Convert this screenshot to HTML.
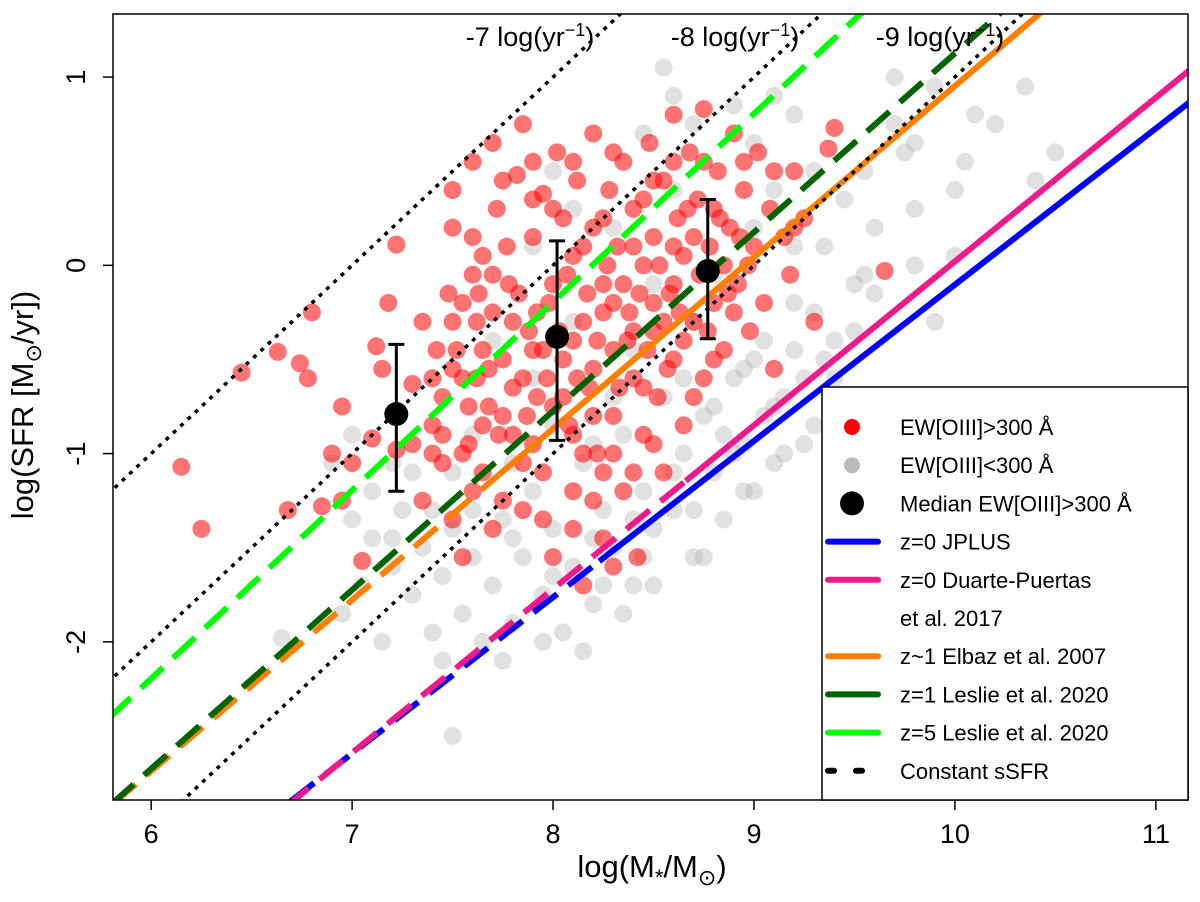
<!DOCTYPE html>
<html><head><meta charset="utf-8"><style>
html,body{margin:0;padding:0;background:#fff;overflow:hidden;width:1200px;height:902px;}
svg{display:block;}
svg text{font-family:"Liberation Sans",sans-serif;}
</style></head><body>
<svg id="chart" width="1200" height="902" viewBox="0 0 1200 902" xmlns="http://www.w3.org/2000/svg">
<defs><clipPath id="plotclip"><rect x="113" y="14" width="1075" height="786"/></clipPath></defs>
<rect x="113" y="14" width="1075" height="786" fill="#fff"/>
<g id="grey-pts" clip-path="url(#plotclip)"></g>
<g id="red-pts" clip-path="url(#plotclip)"></g>
<g id="lines" clip-path="url(#plotclip)"></g>
<g id="medians"></g>
<g id="axes"></g>
<text x="530" y="46" font-size="27" text-anchor="middle">-7 log(yr<tspan dy="-10" font-size="18">−1</tspan><tspan dy="10">)</tspan></text>
<text x="735" y="46" font-size="27" text-anchor="middle">-8 log(yr<tspan dy="-10" font-size="18">−1</tspan><tspan dy="10">)</tspan></text>
<text x="940" y="46" font-size="27" text-anchor="middle">-9 log(yr<tspan dy="-10" font-size="18">−1</tspan><tspan dy="10">)</tspan></text>
<g id="legend"></g>
<text x="652" y="877" font-size="31" text-anchor="middle">log(M<tspan dy="8" font-size="22">*</tspan><tspan dy="-8">/M</tspan><tspan dy="8" font-size="22">⊙</tspan><tspan dy="-8">)</tspan></text>
<text transform="translate(33,405) rotate(-90)" font-size="31" text-anchor="middle">log(SFR [M<tspan dy="8" font-size="22">⊙</tspan><tspan dy="-8">/yr])</tspan></text>
</svg>
<script>
const xTicks=[6,7,8,9,10,11];
const yTicks=[-2,-1,0,1];
const greyPts=[[6.65,-1.98],[6.95,-1.85],[7.0,-1.35],[7.05,-1.7],[7.1,-1.45],[7.15,-2.0],[7.2,-1.6],[7.25,-1.3],[7.3,-1.75],[7.35,-1.5],[7.4,-1.95],[7.45,-1.65],[7.5,-1.4],[7.5,-2.5],[7.55,-1.85],[7.6,-1.55],[7.65,-2.0],[7.7,-1.7],[7.75,-1.35],[7.8,-1.9],[7.85,-1.55],[7.9,-1.2],[7.95,-1.75],[8.0,-1.4],[8.05,-1.95],[8.1,-1.6],[8.15,-1.05],[8.2,-1.8],[8.25,-1.3],[8.3,-1.5],[8.35,-0.9],[8.4,-1.7],[8.45,-1.2],[8.5,-1.4],[8.55,-0.7],[8.6,-1.3],[8.65,-1.0],[8.7,-1.55],[8.75,-0.8],[8.8,-1.1],[8.85,-1.35],[8.9,-0.6],[8.95,-0.95],[9.0,-1.2],[9.05,-0.4],[9.1,-0.75],[9.15,-1.0],[9.2,-0.2],[9.25,-0.6],[9.3,-0.85],[9.35,0.1],[9.4,-0.4],[9.45,0.35],[9.5,-0.1],[9.55,0.5],[9.6,0.2],[9.7,1.0],[9.75,0.6],[9.8,0.3],[9.9,0.95],[10.0,0.4],[10.0,0.05],[10.1,0.8],[10.2,0.75],[10.4,0.45],[10.5,0.6],[10.35,0.95],[8.55,1.05],[8.6,0.9],[8.7,0.75],[8.9,0.85],[9.0,0.65],[9.1,0.9],[9.2,0.8],[9.3,0.5],[8.4,-0.45],[8.3,-0.7],[8.2,-0.95],[8.0,-0.85],[7.9,-0.6],[7.8,-1.05],[8.1,-0.3],[8.5,-0.1],[8.7,-0.3],[8.8,-0.05],[9.0,0.2],[9.1,0.4],[9.2,0.1],[9.3,-0.25],[9.4,-0.6],[9.5,-0.35],[9.6,-0.15],[8.6,0.4],[8.3,0.2],[8.0,0.5],[7.9,0.1],[8.1,0.3],[8.45,0.7],[9.7,0.75],[9.8,0.65],[10.05,0.55],[8.95,-0.55],[9.05,-0.8],[8.85,-0.9],[8.65,-0.6],[7.6,-0.9],[7.7,-0.4],[7.5,-1.1],[7.3,-1.1],[7.1,-1.2],[6.9,-1.05],[7.0,-0.9],[7.2,-1.05],[8.75,-1.55],[8.95,-1.2],[9.1,-1.05],[9.25,-0.95],[8.5,-1.7],[8.35,-1.85],[8.15,-2.05],[7.95,-2.0],[7.75,-2.1],[7.45,-2.1],[9.8,0.0],[9.9,-0.3],[7.6,-1.3],[7.8,-1.45],[8.0,-1.65],[8.2,-1.45],[8.4,-1.35],[8.6,-1.1],[8.8,-0.75],[9.0,-0.5],[9.2,-0.45],[7.4,-1.3],[7.2,-1.45],[8.25,-1.7],[8.45,-1.55],[8.7,-1.3],[8.9,-1.0],[9.15,-0.7],[9.35,-0.5],[9.55,-0.05]];
const redPts=[[6.15,-1.07],[6.25,-1.4],[6.45,-0.57],[6.63,-0.46],[6.68,-1.3],[6.8,-0.25],[6.78,-0.6],[6.74,-0.52],[6.9,-1.0],[6.85,-1.28],[6.95,-0.75],[7.05,-1.57],[7.0,-1.05],[7.1,-0.92],[7.12,-0.43],[7.22,0.11],[7.18,-0.2],[7.22,-0.98],[7.3,-0.63],[7.35,-1.25],[7.4,-0.85],[7.42,-0.45],[7.45,-1.05],[7.5,0.2],[7.5,0.4],[7.48,-0.15],[7.55,-0.6],[7.58,-0.95],[7.6,-1.2],[7.62,-0.3],[7.65,0.05],[7.68,-0.75],[7.7,-1.4],[7.72,0.3],[7.75,-0.5],[7.78,-0.1],[7.8,-0.9],[7.82,0.48],[7.85,-1.3],[7.85,0.75],[7.88,-0.35],[7.9,0.15],[7.92,-0.7],[7.95,-1.1],[7.95,0.38],[7.98,-0.2],[8.0,-1.55],[8.02,0.6],[8.05,-0.5],[8.05,0.25],[8.08,-0.85],[8.1,-1.2],[8.1,0.05],[8.12,0.45],[8.15,-0.3],[8.15,-1.7],[8.18,-0.65],[8.2,0.7],[8.2,0.2],[8.22,-1.0],[8.25,-0.1],[8.25,-1.45],[8.28,0.4],[8.3,-0.45],[8.3,-0.8],[8.32,0.1],[8.35,-1.2],[8.35,0.55],[8.38,-0.25],[8.4,-0.6],[8.4,0.3],[8.42,-1.55],[8.45,0.0],[8.45,-0.9],[8.48,0.65],[8.5,-0.35],[8.5,0.15],[8.52,-0.7],[8.55,-1.1],[8.55,0.45],[8.58,-0.15],[8.6,0.8],[8.6,-0.5],[8.62,0.25],[8.65,-0.85],[8.65,0.05],[8.68,0.6],[8.7,-0.3],[8.72,0.35],[8.75,-0.6],[8.75,0.83],[8.78,0.1],[8.8,-0.2],[8.82,0.5],[8.85,-0.45],[8.88,0.2],[8.9,0.7],[8.92,-0.1],[8.95,0.4],[8.98,-0.35],[9.0,0.1],[9.02,0.6],[9.05,-0.2],[9.08,0.3],[9.1,-0.55],[9.15,0.15],[9.18,-0.05],[9.2,0.5],[9.25,0.25],[9.3,-0.3],[9.37,0.62],[9.4,0.73],[9.65,-0.03],[7.55,-0.2],[7.6,0.15],[7.65,-0.45],[7.7,-0.05],[7.75,-0.8],[7.8,-0.3],[7.85,-0.6],[7.9,-0.95],[7.95,-0.45],[8.0,-0.1],[8.05,-0.7],[8.1,-0.4],[8.15,0.1],[8.2,-0.55],[8.25,-0.25],[8.3,-1.0],[8.35,-0.1],[8.4,-0.35],[8.45,-0.65],[8.5,-0.95],[8.55,-0.3],[8.6,-0.1],[8.65,-0.4],[8.7,-0.7],[8.8,-0.5],[8.85,0.0],[8.9,-0.25],[7.45,-0.7],[7.5,-1.35],[7.4,-1.0],[7.55,-1.55],[7.65,-1.1],[7.75,-1.25],[8.1,-1.4],[8.2,-1.25],[8.3,-1.6],[7.3,-0.95],[7.35,-0.3],[7.6,0.55],[7.7,0.65],[7.9,0.55],[8.0,0.3],[8.3,0.6],[8.5,0.45],[7.15,-0.55],[6.95,-1.25],[7.52,-0.45],[7.58,-0.75],[7.63,-0.15],[7.68,-0.55],[7.73,-0.9],[7.77,0.1],[7.83,-0.15],[7.87,-0.8],[7.92,-0.25],[7.97,-0.6],[8.03,-0.35],[8.07,-0.05],[8.12,-0.6],[8.17,-0.15],[8.22,-0.4],[8.27,0.0],[8.33,-0.65],[8.37,-0.4],[8.43,-0.15],[8.47,-0.45],[8.53,0.0],[8.57,-0.55],[8.63,-0.25],[8.67,0.3],[8.73,-0.05],[8.77,-0.35],[8.83,0.25],[8.87,-0.15],[8.93,0.15],[8.97,0.0],[7.45,-0.9],[7.5,-0.55],[7.4,-0.6],[7.55,-1.0],[7.62,-0.6],[7.7,-0.25],[7.8,-0.65],[7.9,-0.45],[8.0,-0.75],[8.1,-0.9],[8.2,-0.8],[8.3,-0.2],[8.4,0.1],[8.5,-0.2],[8.6,0.1],[8.7,0.15],[8.8,0.3],[8.4,-1.1],[8.25,-1.1],[8.15,-1.0],[7.95,-1.35],[7.85,-1.05],[7.65,-0.85],[7.5,-0.3],[7.6,-0.05],[7.75,0.45],[7.9,0.35],[8.1,0.55],[8.25,0.25],[8.45,0.35],[8.6,0.55],[8.75,0.55],[8.95,0.55],[9.1,0.5],[9.2,0.2]];
const medMass=[7.22,8.02,8.77];
const medSfr=[-0.79,-0.38,-0.03];
const medLo=[-1.2,-0.93,-0.39];
const medHi=[-0.42,0.13,0.35];
const relNames=["z0-jplus","z0-duarte-puertas","z1-elbaz","z1-leslie","z5-leslie","ssfr-7","ssfr-8","ssfr-9"];
const relColors=["#0000ff","#ee1a8c","#ff8000","#006400","#00ff00","#000","#000","#000"];
const relSlopes=[0.83,0.87,0.91,0.95,1.0,1.0,1.0,1.0];
const relRef=[[11.16,0.86],[11.16,1.03],[10.42,1.335],[10.22,1.335],[9.53,1.335],[8,1],[8,0],[8,-1]];
const relSolidFrom=[8.23,8.66,7.74,99,99,99,99,99];
const X0=5.81,X1=11.16,Y0=-2.84,Y1=1.335;
const sx=v=>113+(v-X0)/(X1-X0)*1075;
const sy=v=>800-(v-Y0)/(Y1-Y0)*786;
const NS="http://www.w3.org/2000/svg";
function mk(tag,attrs,parent){const e=document.createElementNS(NS,tag);for(const k in attrs)e.setAttribute(k,attrs[k]);parent.appendChild(e);return e;}
const gG=document.getElementById('grey-pts');
greyPts.forEach(p=>{const c=mk('circle',{cx:sx(p[0]),cy:sy(p[1]),r:9,fill:'#aaaaaa','fill-opacity':0.35},gG);

});
const gR=document.getElementById('red-pts');
redPts.forEach(p=>{const c=mk('circle',{cx:sx(p[0]),cy:sy(p[1]),r:9,fill:'#ff0000','fill-opacity':0.55},gR);

});
const gL=document.getElementById('lines');
relNames.forEach((n,i)=>{
  const m=relSlopes[i],r=relRef[i],f=x=>r[1]+m*(x-r[0]);
  const dotted=i>=5;
  const xs=X0-0.5,xe=X1+0.5,sf=Math.min(Math.max(relSolidFrom[i],xs),xe);
  const d=mk('line',{x1:sx(xs),y1:sy(f(xs)),x2:sx(sf),y2:sy(f(sf)),stroke:relColors[i],'stroke-width':dotted?3.5:6,'stroke-dasharray':dotted?'4 6':'30 14'},gL);
  
  
  if(sf<xe){const s=mk('line',{x1:sx(sf),y1:sy(f(sf)),x2:sx(xe),y2:sy(f(xe)),stroke:relColors[i],'stroke-width':6},gL);
  
  }
});
const gM=document.getElementById('medians');
medMass.forEach((m,i)=>{const x=sx(m);
  const e=mk('path',{d:`M${x},${sy(medLo[i])}V${sy(medHi[i])}M${x-8},${sy(medLo[i])}H${x+8}M${x-8},${sy(medHi[i])}H${x+8}`,stroke:'#000','stroke-width':3,fill:'none'},gM);
  
  
  const c=mk('circle',{cx:x,cy:sy(medSfr[i]),r:12,fill:'#000'},gM);
  
  });
const gA=document.getElementById('axes');
const fr=mk('rect',{x:113,y:14,width:1075,height:786,fill:'none',stroke:'#000','stroke-width':1.5},gA);


xTicks.forEach(t=>{const x=sx(t);
  const l=mk('line',{x1:x,y1:800,x2:x,y2:810,stroke:'#000','stroke-width':1.5},gA);
  
  
  const tx=mk('text',{x:x,y:843,'font-size':27,'text-anchor':'middle'},gA);tx.textContent=t;
  
  });
yTicks.forEach(t=>{const y=sy(t);
  const l=mk('line',{x1:103,y1:y,x2:113,y2:y,stroke:'#000','stroke-width':1.5},gA);
  
  
  const tx=mk('text',{transform:`translate(85,${y}) rotate(-90)`,'font-size':27,'text-anchor':'middle'},gA);tx.textContent=t;
  
  });
const gLeg=document.getElementById('legend');
const lb=mk('rect',{x:822,y:387,width:366,height:413,fill:'#fff',stroke:'#000','stroke-width':1.5},gLeg);


const legRows=[["circle","#ff0000",8,"EW[OIII]>300 Å"],["circle","#bbbbbb",8,"EW[OIII]<300 Å"],["circle","#000",12,"Median EW[OIII]>300 Å"],["line","#0000ff",0,"z=0 JPLUS"],["line","#ee1a8c",0,"z=0 Duarte-Puertas"],["none","",0,"et al. 2017"],["line","#ff8000",0,"z~1 Elbaz et al. 2007"],["line","#006400",0,"z=1 Leslie et al. 2020"],["line","#00ff00",0,"z=5 Leslie et al. 2020"],["dash","#000",0,"Constant sSFR"]];
legRows.forEach((r,i)=>{const y=427+i*38.2;
  const g=mk('g',{},gLeg);
  
  
  if(r[0]==="circle")mk('circle',{cx:852,cy:y,r:r[2],fill:r[1]},g);
  if(r[0]==="line")mk('line',{x1:828,y1:y,x2:878,y2:y,stroke:r[1],'stroke-width':6,'stroke-linecap':'round'},g);
  if(r[0]==="dash")mk('line',{x1:828,y1:y,x2:878,y2:y,stroke:r[1],'stroke-width':6,'stroke-linecap':'round','stroke-dasharray':'6 22'},g);
  const t=mk('text',{x:900,y:y+8,'font-size':22},g);t.textContent=r[3];});
</script>
</body></html>
